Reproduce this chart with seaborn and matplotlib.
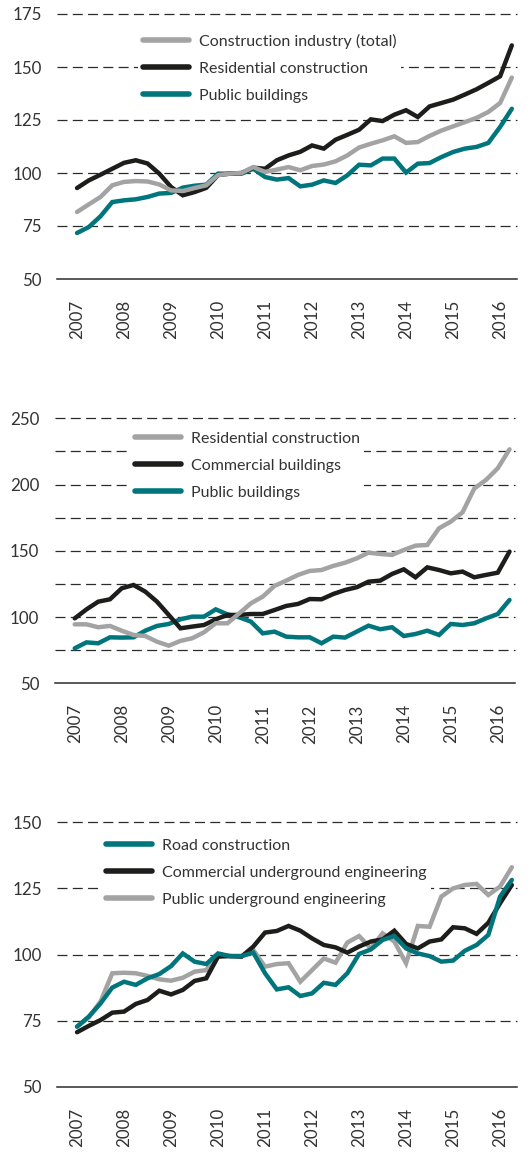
import numpy as np
import pandas as pd
import matplotlib
matplotlib.use('Agg')
import matplotlib.pyplot as plt
import seaborn as sns

# quarterly index values, 2007 Q1 .. 2016 Q2
quarters = 2007 + np.arange(38) / 4
years = list(range(2007, 2017))

# panel 1
p1_total = [81.6, 85.2, 88.7, 94.2, 95.8, 96.2, 96.0, 94.6, 91.8, 91.5, 92.9, 94.2, 99.0, 99.7, 100.0, 102.8,
            100.5, 101.6, 102.8, 101.3, 103.3, 104.0, 105.5, 108.3, 112.0, 113.8, 115.4, 117.3, 114.2, 114.6,
            117.5, 120.0, 122.0, 124.0, 126.0, 128.8, 133.0, 145.0]
p1_resid = [92.9, 96.5, 99.2, 102.0, 104.8, 106.0, 104.5, 99.7, 93.4, 89.5, 91.0, 93.0, 99.0, 99.7, 100.0, 102.5,
            102.0, 106.0, 108.3, 110.0, 113.0, 111.5, 115.7, 118.0, 120.4, 125.3, 124.5, 127.5, 129.6, 126.4,
            131.4, 133.0, 134.6, 137.0, 139.5, 142.5, 145.6, 160.2]
p1_public = [71.7, 74.5, 79.6, 86.3, 87.1, 87.6, 88.7, 90.3, 90.6, 93.1, 94.0, 94.5, 99.7, 99.7, 99.7, 102.0,
             98.1, 96.9, 97.6, 93.7, 94.5, 96.5, 95.3, 98.9, 103.9, 103.6, 106.8, 106.8, 100.2, 104.4,
             104.7, 107.5, 109.9, 111.5, 112.3, 114.2, 121.7, 130.3]

# panel 2
p2_resid = [94.5, 94.5, 92.3, 93.3, 89.7, 86.5, 85.7, 81.4, 78.4, 82.0, 84.0, 88.5, 95.3, 95.3, 102.8, 110.4,
            115.4, 123.5, 127.5, 131.8, 134.8, 135.5, 138.6, 141.0, 144.3, 148.6, 147.6, 146.9, 150.6, 153.9,
            154.4, 167.0, 172.0, 179.0, 197.0, 203.5, 212.3, 226.6]
p2_comm = [99.0, 105.8, 111.6, 113.4, 121.7, 124.2, 119.2, 111.6, 101.6, 91.5, 92.8, 94.0, 98.3, 101.6, 101.6, 102.3,
           102.3, 105.3, 108.4, 109.9, 113.6, 113.4, 117.4, 120.4, 122.5, 126.7, 127.5, 132.5, 136.0, 130.0,
           137.5, 135.5, 133.0, 134.3, 130.0, 131.8, 133.5, 149.4]
p2_public = [76.4, 80.9, 80.2, 84.7, 84.5, 84.7, 89.7, 93.3, 94.8, 98.3, 100.3, 100.3, 105.8, 102.0, 99.8, 96.5,
             87.7, 89.0, 85.2, 84.7, 84.7, 80.2, 85.2, 84.5, 89.0, 93.5, 90.8, 92.3, 85.7, 87.2,
             89.7, 86.5, 94.8, 94.0, 95.3, 99.0, 102.3, 112.9]

# panel 3
p3_road = [72.7, 76.5, 81.5, 87.5, 89.7, 88.5, 91.0, 92.6, 95.6, 100.4, 97.3, 96.4, 100.4, 99.4, 99.4, 100.7,
           92.9, 86.8, 87.6, 84.3, 85.3, 89.3, 88.5, 92.9, 100.2, 101.9, 105.5, 107.0, 102.3, 100.4,
           99.4, 97.3, 97.7, 101.4, 103.6, 107.4, 121.9, 128.2]
p3_comm = [70.6, 73.0, 75.2, 78.0, 78.4, 81.3, 82.8, 86.3, 84.9, 86.6, 90.0, 91.0, 99.2, 99.4, 99.2, 103.0,
           108.3, 108.9, 110.8, 109.0, 106.1, 103.6, 102.7, 100.7, 103.0, 104.9, 105.7, 109.0, 104.0, 102.3,
           104.9, 105.7, 110.3, 109.9, 107.8, 112.0, 119.4, 126.3]
p3_public = [72.7, 76.2, 82.2, 92.9, 93.1, 92.9, 91.9, 90.6, 90.1, 91.2, 93.5, 94.1, 100.1, 99.4, 99.4, 101.7,
             95.4, 96.4, 96.7, 89.7, 94.1, 98.5, 96.9, 104.5, 107.0, 102.3, 108.0, 104.9, 96.7, 110.8,
             110.5, 121.9, 125.0, 126.3, 126.7, 122.5, 125.7, 133.0]

GRAY = '#a3a3a3'
BLACK = '#1d1d1b'
TEAL = '#00757c'
TXT = '#333333'

sns.set_style('white')
plt.rcParams['font.family'] = ['Lato', 'DejaVu Sans']
plt.rcParams['lines.scale_dashes'] = False
FS = 11.5   # legend text
TFS = 12.2  # tick labels

W, H = 532, 1153
fig = plt.figure(figsize=(W / 100, H / 100), dpi=100)


def panel(left_px, top_px, bottom_px, ylim, yticks, series, order, leg_xy):
    ax = fig.add_axes([left_px / W, 1 - bottom_px / H, 460 / W, (bottom_px - top_px) / H])
    names = [s[0] for s in series]
    df = pd.DataFrame({'t': np.tile(quarters, len(series)),
                       'value': np.concatenate([s[1] for s in series]),
                       'series': np.repeat(names, len(quarters))})
    handles = {}
    colors = dict((s[0], s[2]) for s in series)
    for name in order:
        sns.lineplot(data=df[df['series'] == name], x='t', y='value', color=colors[name], lw=3.2,
                     ax=ax, legend=False, solid_joinstyle='miter', solid_capstyle='round')
        handles[name] = ax.lines[-1]
    ax.set_xlim(2006.574, 2016.36)
    ax.set_ylim(*ylim)
    for v in np.arange(ylim[0] + 25, ylim[1] + 1, 25):
        ax.axhline(v, color='#2b2b2b', lw=0.9, ls=(0, (7.2, 3.8)), zorder=0.5, clip_on=False)
    ax.set_yticks(yticks)
    ax.set_yticklabels([str(v) for v in yticks], fontsize=TFS, color=TXT)
    ax.tick_params(axis='y', length=0, pad=11)
    ax.set_xticks(years)
    ax.set_xticklabels([str(y) for y in years], rotation=90, fontsize=TFS, color=TXT)
    ax.set_xticks(quarters[[i for i in range(38) if i % 4 != 0]], minor=True)
    ax.tick_params(axis='x', which='major', length=10, width=1.1, color='#2b2b2b', direction='out', pad=5)
    ax.tick_params(axis='x', which='minor', length=5, width=1.1, color='#2b2b2b', direction='out')
    ax.set_xlabel('')
    ax.set_ylabel('')
    for s in ['left', 'right', 'top']:
        ax.spines[s].set_visible(False)
    ax.spines['bottom'].set_color('#2b2b2b')
    ax.spines['bottom'].set_linewidth(1.1)
    leg = ax.legend([handles[n] for n in names], names, loc='upper left',
                    bbox_to_anchor=(leg_xy[0] / W, 1 - leg_xy[1] / H), bbox_transform=fig.transFigure,
                    frameon=True, facecolor='white', edgecolor='none', framealpha=1, fancybox=False,
                    fontsize=FS, handlelength=2.9, handletextpad=0.6, labelspacing=0.8, borderpad=0.3,
                    borderaxespad=0)
    for t in leg.get_texts():
        t.set_color(TXT)
    for l in leg.get_lines():
        l.set_linewidth(4)
        l.set_solid_capstyle('round')
    return ax


panel(57, 14, 279, (50, 175), [50, 75, 100, 125, 150, 175],
      [('Construction industry (total)', p1_total, GRAY),
       ('Residential construction', p1_resid, BLACK),
       ('Public buildings', p1_public, TEAL)],
      ['Public buildings', 'Residential construction', 'Construction industry (total)'],
      (138, 29))

panel(54.7, 418.3, 683.3, (50, 250), [50, 100, 150, 200, 250],
      [('Residential construction', p2_resid, GRAY),
       ('Commercial buildings', p2_comm, BLACK),
       ('Public buildings', p2_public, TEAL)],
      ['Public buildings', 'Commercial buildings', 'Residential construction'],
      (130, 427))

panel(57, 822.3, 1086.7, (50, 150), [50, 75, 100, 125, 150],
      [('Road construction', p3_road, TEAL),
       ('Commercial underground engineering', p3_comm, BLACK),
       ('Public underground engineering', p3_public, GRAY)],
      ['Public underground engineering', 'Commercial underground engineering', 'Road construction'],
      (101, 834))

fig.savefig('out.png', dpi=100)
